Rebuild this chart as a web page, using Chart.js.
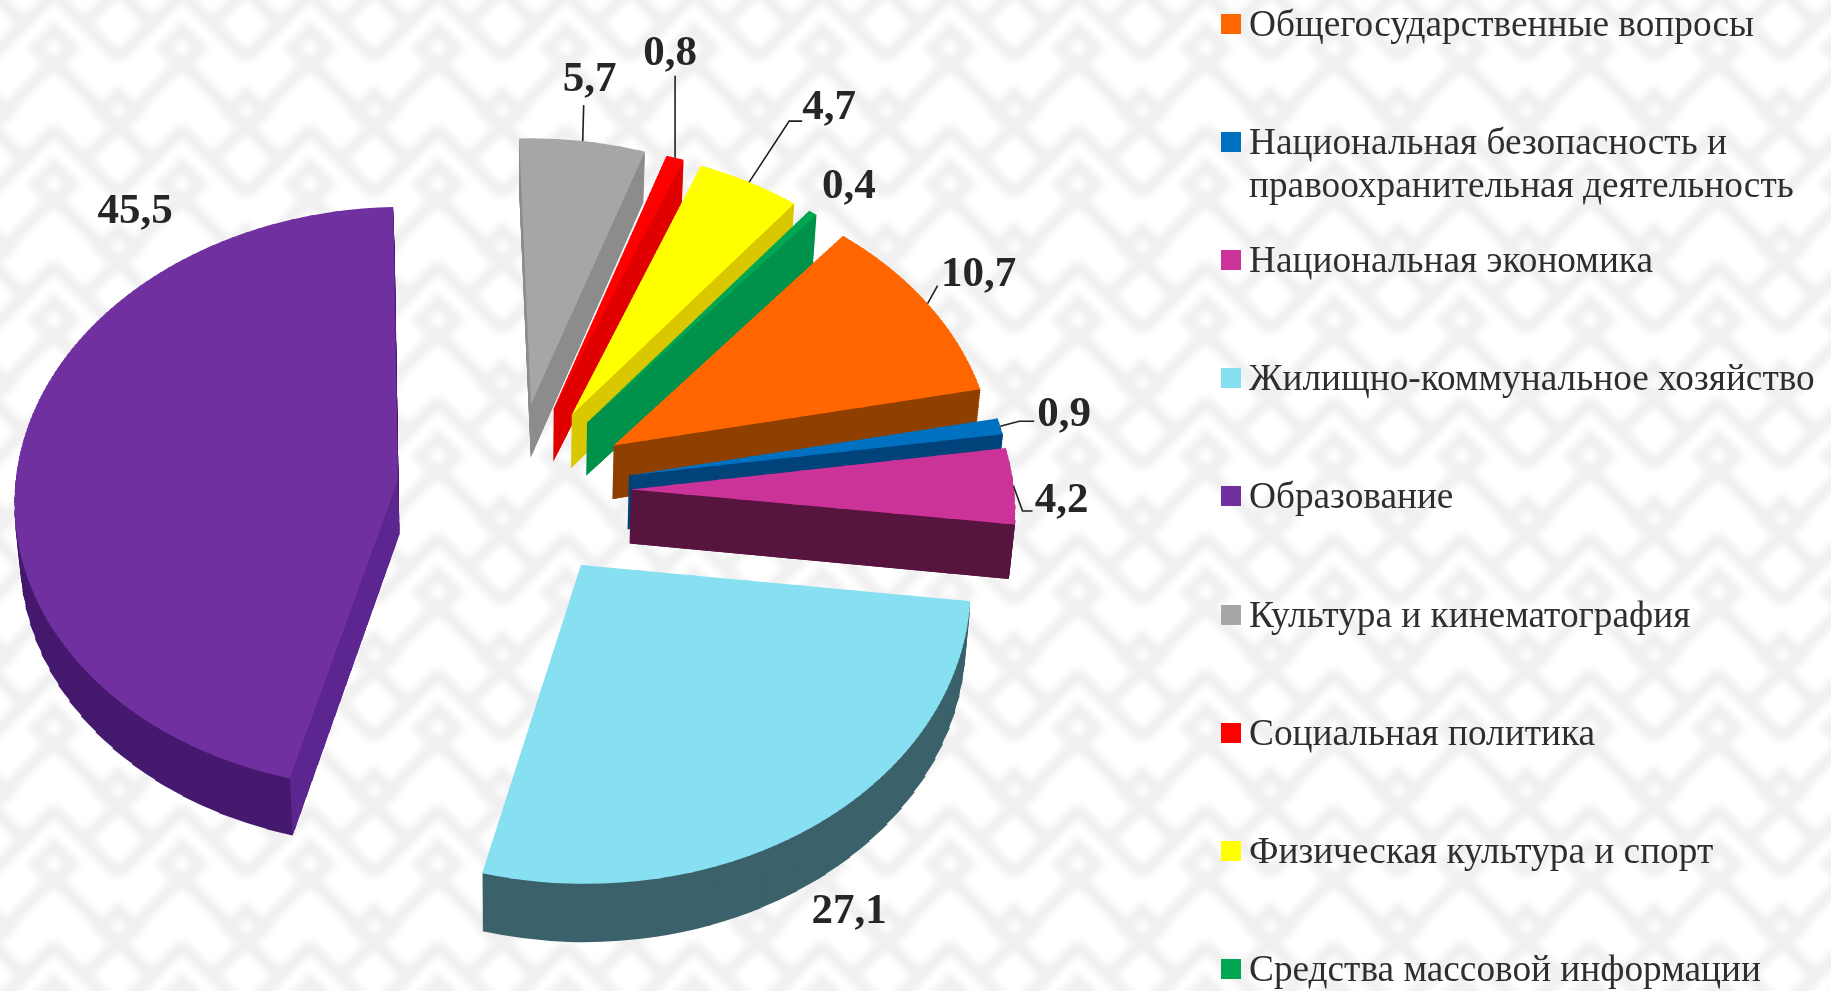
<!DOCTYPE html>
<html lang="ru">
<head>
<meta charset="utf-8">
<title>Структура расходов</title>
<script src="https://cdn.jsdelivr.net/npm/chart.js@4/dist/chart.umd.min.js"></script>
<style>
    html, body { margin: 0; padding: 0; width: 1831px; height: 991px; overflow: hidden; background: #fff; }
    #pattern { position: absolute; left: -10px; top: -10px; width: 1851px; height: 1011px; filter: blur(3px);
        background-image: url("data:image/svg+xml,%3Csvg xmlns='http://www.w3.org/2000/svg' width='128' height='136'%3E%3Cg fill='none' stroke='%23f0f0f0' stroke-width='13'%3E%3Cpath d='M0 68L64 4L128 68M0 136L64 72L128 136M-32 32L0 0L32 32M96 32L128 0L160 32'/%3E%3Cpath d='M64 40L82 58L64 76L46 58Z'/%3E%3Cpath d='M0 104L18 122L0 140L-18 122ZM128 104L146 122L128 140L110 122Z'/%3E%3C/g%3E%3C/svg%3E"); }
    #resultsChart { position: absolute; left: 0; top: 0; }
    .legend-item { position: absolute; left: 1249px; font: 37.3px/43px "Liberation Serif", "Times New Roman", serif; color: #2e2e2e; white-space: pre; }
    .legend-item i { position: absolute; left: -28px; top: 12px; width: 20px; height: 20px; }
</style>
</head>
<body>
<div id="pattern"></div>
<canvas id="resultsChart" width="1831" height="991"></canvas>
<div id="legend"></div>
<script>
const categories = [
    'Общегосударственные вопросы',
    'Национальная безопасность и\nправоохранительная деятельность',
    'Национальная экономика',
    'Жилищно-коммунальное хозяйство',
    'Образование',
    'Культура и кинематография',
    'Социальная политика',
    'Физическая культура и спорт',
    'Средства массовой информации'
];
const shares = [10.7, 0.9, 4.2, 27.1, 45.5, 5.7, 0.8, 4.7, 0.4];

const topColors = ['#ff6600', '#0070c0', '#cc3399', '#87dff2', '#7030a0', '#a6a6a6', '#ff0000', '#ffff00', '#00a651'];
const rimColors = ['#8f4000', '#00427a', '#57143f', '#3b626b', '#451a6e', '#8c8c8c', '#d80000', '#d9c800', '#00914a'];
const cutColors = ['#8f4000', '#00427a', '#57143f', '#3b626b', '#5c2590', '#8c8c8c', '#e00000', '#d9c800', '#00914a'];

// смещения подписи и выноски относительно точки на внешней дуге сектора
const labelShift = [[51, -29], [64, -11], [48, 15], [34, 86], [114, -237], [7, -61], [-5, -104], [80, -74], [36, -26]];
const leaderBends = [
    [[10, -18]],
    [[19, -5], [34, -5]],
    [[9, 25], [19, 25]],
    [],
    [],
    [[1, -36]],
    [[0, -82]],
    [[40, -61], [53, -61]],
    []
];
const leaderPlace = [0.5, 0.5, 0.5, 0.5, 0.5, 0.5, 0.5, 0.5, 0.5];

// параметры объёмной проекции
const explode = 117;
const tilt = 0.76;
const persp = 0.000153;
const wallDepth = 54;
const wallShrink = 0.012;

const scaleAt = Y => 1 / (1 + persp * Y);
const screenY = (cy, Y, t) => cy - tilt * Y * scaleAt(Y) + t * wallDepth * scaleAt(Y);
const screenX = (cx, X, Y, t) => cx + X * scaleAt(Y) * (1 - wallShrink * t);

function sliceShift(arc) {
    const mid = (arc.startAngle + arc.endAngle) / 2;
    return { x: explode * Math.cos(mid), y: -explode * Math.sin(mid) };
}

// Рисуем сектор полосами: в каждой полосе свой масштаб, так получается перспектива
function drawProjected(chart, arc, element, t, strips) {
    const ctx = chart.ctx;
    const shift = sliceShift(arc);
    const R = arc.outerRadius;
    const step = 2 * R / strips;
    for (let i = 0; i < strips; i++) {
        const Y0 = shift.y - R + i * step;
        const Y1 = Y0 + step;
        const top = screenY(arc.y, Y1, t);
        const bottom = screenY(arc.y, Y0, t);
        const sx = scaleAt((Y0 + Y1) / 2) * (1 - wallShrink * t);
        const sy = (bottom - top) / step;
        ctx.save();
        ctx.beginPath();
        ctx.rect(0, Math.floor(top), chart.width, Math.ceil(bottom) - Math.floor(top));
        ctx.clip();
        ctx.transform(sx, 0, 0, sy, arc.x + (shift.x - arc.x) * sx, top + (Y1 - arc.y - shift.y) * sy);
        element.draw(ctx);
        ctx.restore();
    }
}

function drawCutWall(ctx, arc, angle, color) {
    const shift = sliceShift(arc);
    const endX = shift.x + arc.outerRadius * Math.cos(angle);
    const endY = shift.y - arc.outerRadius * Math.sin(angle);
    ctx.fillStyle = color;
    ctx.beginPath();
    ctx.moveTo(screenX(arc.x, shift.x, shift.y, 0), screenY(arc.y, shift.y, 0));
    ctx.lineTo(screenX(arc.x, endX, endY, 0), screenY(arc.y, endY, 0));
    ctx.lineTo(screenX(arc.x, endX, endY, 1), screenY(arc.y, endY, 1));
    ctx.lineTo(screenX(arc.x, shift.x, shift.y, 1), screenY(arc.y, shift.y, 1));
    ctx.closePath();
    ctx.fill();
}

function drawSlice(chart, arc, i) {
    const rim = new arc.constructor({
        x: arc.x, y: arc.y, startAngle: arc.startAngle, endAngle: arc.endAngle,
        circumference: arc.circumference, innerRadius: 0, outerRadius: arc.outerRadius,
        options: { backgroundColor: rimColors[i], borderColor: rimColors[i], borderWidth: 0, borderAlign: 'center', borderRadius: 0, offset: 0, spacing: 0, circular: true }
    });
    for (let layer = 28; layer >= 1; layer--) {
        drawProjected(chart, arc, rim, layer / 28, 40);
    }
    if (Math.cos(arc.startAngle) < 0) drawCutWall(chart.ctx, arc, arc.startAngle, cutColors[i]);
    if (Math.cos(arc.endAngle) > 0) drawCutWall(chart.ctx, arc, arc.endAngle, cutColors[i]);
    drawProjected(chart, arc, arc, 0, 120);
}

const pie3d = {
    id: 'pie3d',
    beforeDatasetDraw(chart) {
        const arcs = chart.getDatasetMeta(0).data;
        const order = arcs.map((arc, i) => i).sort((a, b) => {
            return Math.sin((arcs[a].startAngle + arcs[a].endAngle) / 2) - Math.sin((arcs[b].startAngle + arcs[b].endAngle) / 2);
        });
        order.forEach(i => drawSlice(chart, arcs[i], i));
        return false;
    },
    afterDatasetsDraw(chart) {
        const ctx = chart.ctx;
        chart.getDatasetMeta(0).data.forEach((arc, i) => {
            const shift = sliceShift(arc);
            const angle = arc.startAngle + (arc.endAngle - arc.startAngle) * leaderPlace[i];
            const X = shift.x + arc.outerRadius * Math.cos(angle);
            const Y = shift.y - arc.outerRadius * Math.sin(angle);
            const ax = screenX(arc.x, X, Y, 0);
            const ay = screenY(arc.y, Y, 0);
            if (leaderBends[i].length) {
                ctx.strokeStyle = '#1f1f1f';
                ctx.lineWidth = 1.6;
                ctx.beginPath();
                ctx.moveTo(ax, ay);
                leaderBends[i].forEach(p => ctx.lineTo(ax + p[0], ay + p[1]));
                ctx.stroke();
            }
            ctx.fillStyle = '#262626';
            ctx.font = 'bold 43px "Liberation Serif"';
            ctx.textAlign = 'center';
            ctx.textBaseline = 'middle';
            ctx.fillText(shares[i].toFixed(1).replace('.', ','), ax + labelShift[i][0], ay + labelShift[i][1]);
        });
    }
};

const resultsChart = new Chart(document.getElementById('resultsChart').getContext('2d'), {
    type: 'pie',
    data: {
        labels: categories,
        datasets: [{
            data: shares,
            backgroundColor: topColors,
            borderWidth: 0,
            radius: 383
        }]
    },
    options: {
        responsive: false,
        animation: false,
        rotation: 40,
        layout: { padding: { right: 803, bottom: 10 } },
        plugins: { legend: { display: false }, tooltip: { enabled: false } }
    },
    plugins: [pie3d]
});

// Легенда отдельным блоком: в строке два переноса, а шаг строк одинаковый
const legendBox = document.getElementById('legend');
categories.forEach((name, i) => {
    const item = document.createElement('div');
    item.className = 'legend-item';
    item.style.top = (1.5 + 118.2 * i) + 'px';
    item.textContent = name;
    const mark = document.createElement('i');
    mark.style.background = topColors[i];
    item.appendChild(mark);
    legendBox.appendChild(item);
});
</script>
</body>
</html>
